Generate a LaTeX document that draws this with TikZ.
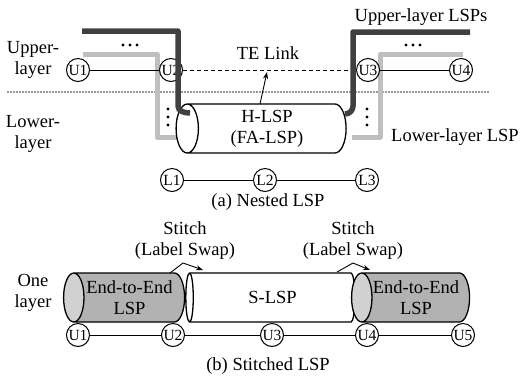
\documentclass[tikz,border=0pt]{standalone}
\usepackage{fontspec}
\setmainfont{Liberation Serif}
\usetikzlibrary{arrows.meta,positioning,shapes.geometric}
\tikzset{
  lspnode/.style={draw,circle,line width=1pt,minimum size=23pt,inner sep=0pt,font=\fontsize{15.5}{15.5}\selectfont,fill=white},
  lsptube/.style={cylinder,shape border rotate=180,aspect=0.6,draw,line width=1.3pt,minimum height=170pt,minimum width=49pt,inner sep=0pt,align=center,font=\fontsize{18.5}{21}\selectfont},
  lspgray/.style={lsptube,cylinder uses custom fill,cylinder body fill=black!30,cylinder end fill=black!18},
  lspwhite/.style={lsptube,cylinder uses custom fill,cylinder body fill=white,cylinder end fill=white},
  lsptext/.style={align=center,font=\fontsize{18.5}{21}\selectfont,inner sep=1pt},
  lsplink/.style={line width=0.9pt},
  lspupper/.style={line width=5.5pt,black!75,line join=round},
  lspband/.style={line width=5pt,black!25,line join=round},
  lspsep/.style={line width=1.2pt,black!40,dash pattern=on 2pt off 1pt},
  lsparrow/.style={-{Stealth[length=7pt,width=5pt]},line width=0.9pt},
}
\begin{document}
\begin{tikzpicture}[x=1pt,y=-1pt]
\useasboundingbox (0,0) rectangle (521,376);
% (a) nested LSP
\draw[lspsep] (7,92) -- (490,92);
\draw[lspband] (83,54) -- (157,54) -- (157,137) -- (185,137);
\draw[lspband] (463,54) -- (380,54) -- (380,137) -- (352,137);
\node[lspwhite] (hlsp) at (267,128.5) {H-LSP\\(FA-LSP)};
\foreach \x in {123,130,137,406,413,420} \fill (\x,45) circle (1.7);
\foreach \y in {109,117,125} {\fill (168,\y) circle (1.7); \fill (367,\y) circle (1.7);}
\node[lspnode] (au1) at (78,70) {U1};
\node[lspnode] (au2) at (171,70) {U2};
\node[lspnode] (au3) at (368,70) {U3};
\node[lspnode] (au4) at (461,70) {U4};
\node[lspnode] (al1) at (172,180) {L1};
\node[lspnode] (al2) at (265,180) {L2};
\node[lspnode] (al3) at (367,180) {L3};
\draw[lsplink] (au1) -- (au2);
\draw[lsplink] (au3) -- (au4);
\draw[lsplink] (al1) -- (al2) -- (al3);
\draw[lsplink,dash pattern=on 4pt off 3pt] (au2) -- (au3);
\draw[lspupper] (82,31) -- (178,31) -- (178,106) to[out=-90,in=180] (190,113);
\draw[lspupper] (470,32) -- (353,32) -- (353,106) to[out=-90,in=0] (345,114);
\coordinate (tefoot) at (260,104);
\coordinate (tehead) at (267,72);
\draw[lsparrow] (tefoot) -- (tehead);
\node[lsptext] (upper) at (33,60) {Upper-\\layer};
\node[lsptext] (lower) at (33,134) {Lower-\\layer};
\node[lsptext] (telink) at (268,53) {TE Link};
\node[lsptext] (ulsps) at (421,17) {Upper-layer LSPs};
\node[lsptext] (llsp) at (455,137) {Lower-layer LSP};
\node[lsptext] (capa) at (268,202) {(a) Nested LSP};
% (b) stitched LSP
\node[lspgray,minimum height=121pt] (e2e1) at (129.5,297.5) {End-to-End\\LSP};
\node[lspwhite,minimum height=169pt] (slsp) at (272.5,297.5) {S-LSP};
\node[lspgray,minimum height=118pt] (e2e2) at (416,297.5) {End-to-End\\LSP};
\node[lspnode] (bu1) at (78,335) {U1};
\node[lspnode] (bu2) at (173,335) {U2};
\node[lspnode] (bu3) at (272,335) {U3};
\node[lspnode] (bu4) at (367,335) {U4};
\node[lspnode] (bu5) at (463,335) {U5};
\draw[lsplink] (bu1) -- (bu2) -- (bu3) -- (bu4) -- (bu5);
\draw[lsparrow] (170,273) -- (183,263) -- (203,270);
\draw[lsparrow] (337,272) -- (353,263) -- (370,270);
\node[lsptext] (stl) at (185,241) {Stitch\\(Label Swap)};
\node[lsptext] (str) at (353,241) {Stitch\\(Label Swap)};
\node[lsptext] (one) at (33,293) {One\\layer};
\node[lsptext] (capb) at (268,366) {(b) Stitched LSP};
\end{tikzpicture}
\end{document}
